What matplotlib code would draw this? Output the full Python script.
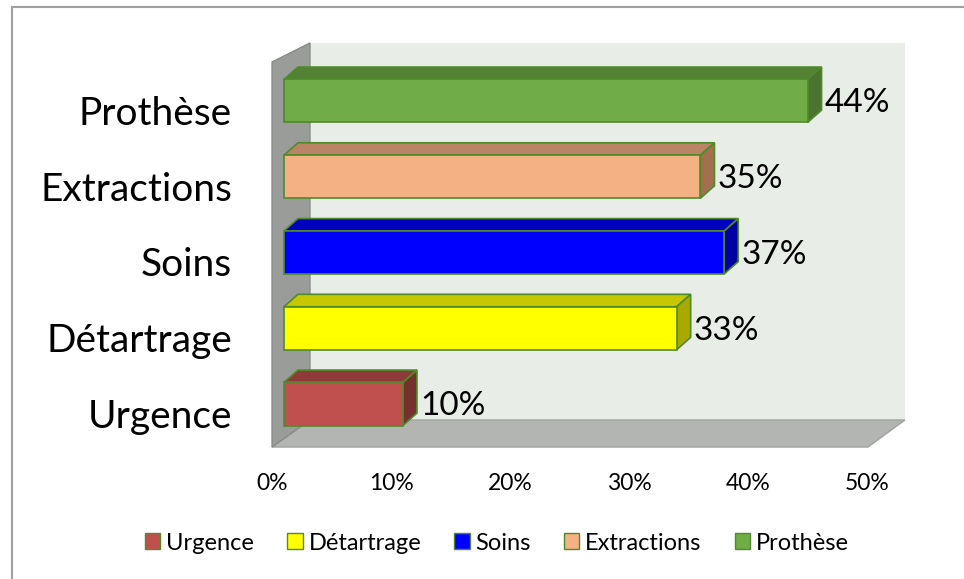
import numpy as np
import matplotlib
matplotlib.use('Agg')
import matplotlib.pyplot as plt
from matplotlib.patches import Polygon, Patch
from matplotlib.lines import Line2D

plt.rcParams['font.family'] = ['Lato', 'DejaVu Sans']

# data (bottom to top)
categories = ['Urgence', 'Détartrage', 'Soins', 'Extractions', 'Prothèse']
values = [10, 33, 37, 35, 44]
labels = ['10%', '33%', '37%', '35%', '44%']
ticks = [0, 10, 20, 30, 40, 50]
tick_labels = ['0%', '10%', '20%', '30%', '40%', '50%']

# colours: front, top, side
front_cols = ['#C0504D', '#FFFF00', '#0000FF', '#F4B183', '#70AD47']
top_cols = ['#8E3A38', '#C8C800', '#0000BF', '#BC8466', '#548235']
side_cols = ['#76302E', '#A9A900', '#0000A0', '#A2704F', '#4A7430']
edge_col = '#4F8A2B'

fig = plt.figure(figsize=(9.64, 5.79), dpi=100)
ax = fig.add_axes([0, 0, 1, 1])
ax.set_xlim(-22.86, 58.15)
ax.set_ylim(-2.31, 5.333)
ax.axis('off')

# 3d box walls (x in %, y in category units)
wx_back = 3.19
floor_front, floor_back = -0.568, -0.211
wall_top_back, wall_top_front = 4.766, 4.515
back_right, floor_right = 53.19, 50.08

ax.add_patch(Polygon([(wx_back, floor_back), (back_right, floor_back), (back_right, wall_top_back),
                      (wx_back, wall_top_back)], closed=True, fc='#E9EDE8', ec='none', zorder=1))
ax.add_patch(Polygon([(0, floor_front), (wx_back, floor_back), (back_right, floor_back),
                      (floor_right, floor_front)], closed=True, fc='#B2B5B1', ec='#A0A3A0', lw=1, zorder=2))
ax.add_patch(Polygon([(0, floor_front), (0, wall_top_front), (wx_back, wall_top_back),
                      (wx_back, floor_back)], closed=True, fc='#9A9C9A', ec='#8A8C8A', lw=1, zorder=2))

# bars
x0 = 1.0
dx, dy = 1.18, 0.164
h = 0.568
for i, v in enumerate(values):
    y0, y1 = i - h / 2, i + h / 2
    x1 = x0 + v
    ax.add_patch(Polygon([(x0, y1), (x0 + dx, y1 + dy), (x1 + dx, y1 + dy), (x1, y1)],
                         closed=True, fc=top_cols[i], ec=edge_col, lw=1.2, zorder=3))
    ax.add_patch(Polygon([(x1, y0), (x1 + dx, y0 + dy), (x1 + dx, y1 + dy), (x1, y1)],
                         closed=True, fc=side_cols[i], ec=edge_col, lw=1.2, zorder=3))
    ax.add_patch(Polygon([(x0, y0), (x1, y0), (x1, y1), (x0, y1)],
                         closed=True, fc=front_cols[i], ec=edge_col, lw=1.2, zorder=4))
    ax.text(x1 + 1.43, i - 0.03, labels[i], fontsize=24, va='center', ha='left', zorder=5)
    ax.text(-3.36, i - 0.17, categories[i], fontsize=28, va='center', ha='right', zorder=5)

for t, tl in zip(ticks, tick_labels):
    ax.text(t, -1.043, tl, fontsize=16.5, va='center', ha='center')

# legend
handles = [Patch(fc=c, ec=edge_col, lw=1) for c in front_cols]
fig.legend(handles, categories, loc='center', bbox_to_anchor=(497 / 964, 1 - 543 / 579),
           ncol=5, frameon=False, fontsize=17, handlelength=0.65, handleheight=0.65,
           handletextpad=0.25, columnspacing=1.4)

# outer frame (only top and left visible)
fig.add_artist(Line2D([12 / 964, 12 / 964], [0, 1 - 7 / 579], color='#A0A0A0', lw=1.5))
fig.add_artist(Line2D([12 / 964, 1], [1 - 7 / 579, 1 - 7 / 579], color='#A0A0A0', lw=1.5))

fig.savefig('out.png', dpi=100)
